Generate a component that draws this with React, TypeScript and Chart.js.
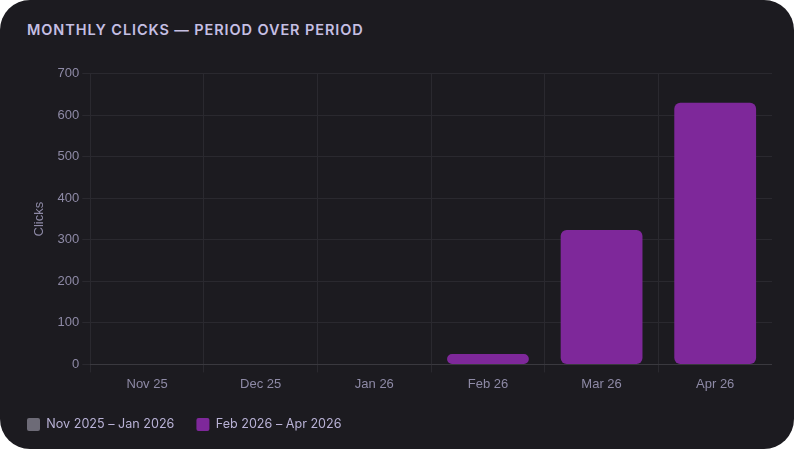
import React, { useEffect, useRef } from "react";
import { Chart, registerables } from "chart.js";

Chart.register(...registerables);

const categories = ["Nov 25", "Dec 25", "Jan 26", "Feb 26", "Mar 26", "Apr 26"];
const previousLabel = "Nov 2025 – Jan 2026";
const currentLabel = "Feb 2026 – Apr 2026";
const previousValues: (number | null)[] = [0, 0, 0, null, null, null];
const currentValues: (number | null)[] = [null, null, null, 25, 324, 630];
const yTicks = [0, 100, 200, 300, 400, 500, 600, 700];

export default function App() {
  const ref = useRef<HTMLCanvasElement | null>(null);
  useEffect(() => {
    document.body.style.margin = "0";
    document.body.style.background = "#ffffff";
    const ctx = ref.current!;
    const chart = new Chart(ctx, {
      type: "bar",
      data: {
        labels: categories,
        datasets: [
          {
            label: previousLabel,
            data: previousValues,
            backgroundColor: "#6d6b77",
            borderColor: "#6d6b77",
            borderRadius: 6,
            borderSkipped: false,
          },
          {
            label: currentLabel,
            data: currentValues,
            backgroundColor: "#7e289a",
            borderColor: "#7e289a",
            borderRadius: 6,
            borderSkipped: false,
          },
        ],
      },
      options: {
        animation: false,
        responsive: true,
        maintainAspectRatio: false,
        skipNull: true,
        layout: { padding: { left: 0, right: 0, top: 4, bottom: 0 } },
        plugins: {
          legend: {
            position: "bottom",
            align: "start",
            labels: {
              color: "#b9b2d6",
              font: { family: "Inter", size: 12.6 },
              boxWidth: 13,
              boxHeight: 13,
              useBorderRadius: true,
              borderRadius: 2,
              padding: 22,
            },
          },
          tooltip: { enabled: false },
        },
        scales: {
          x: {
            grid: { color: "#2a292f", tickLength: 8 },
            border: { color: "#3a393f" },
            ticks: {
              color: "#8e8aa6",
              font: { family: "Liberation Sans", size: 13 },
              padding: 4,
            },
          },
          y: {
            min: yTicks[0],
            max: yTicks[yTicks.length - 1],
            grid: { color: "#2a292f", tickLength: 8 },
            border: { display: false },
            afterBuildTicks: (axis: any) => {
              axis.ticks = yTicks.map((v) => ({ value: v }));
            },
            ticks: {
              color: "#8e8aa6",
              font: { family: "Liberation Sans", size: 13 },
              padding: 3,
            },
            title: {
              display: true,
              text: "Clicks",
              color: "#8e8aa6",
              font: { family: "Liberation Sans", size: 13 },
              padding: { top: 27, bottom: 7 },
            },
          },
        },
      },
    });
    return () => chart.destroy();
  }, []);

  return (
    <div
      style={{
        position: "absolute",
        left: 0,
        top: 0,
        width: 794,
        height: 449,
        borderRadius: 30,
        background: "#1c1b20",
        overflow: "hidden",
      }}
    >
      <div
        style={{
          position: "absolute",
          left: 27,
          top: 21,
          fontFamily: "Inter",
          fontWeight: 600,
          fontSize: 14.5,
          letterSpacing: 0.9,
          color: "#c5bfe3",
        }}
      >
        MONTHLY CLICKS — PERIOD OVER PERIOD
      </div>
      <div
        style={{
          position: "absolute",
          left: 5,
          top: 63,
          width: 767,
          height: 378,
        }}
      >
        <canvas ref={ref} />
      </div>
    </div>
  );
}
